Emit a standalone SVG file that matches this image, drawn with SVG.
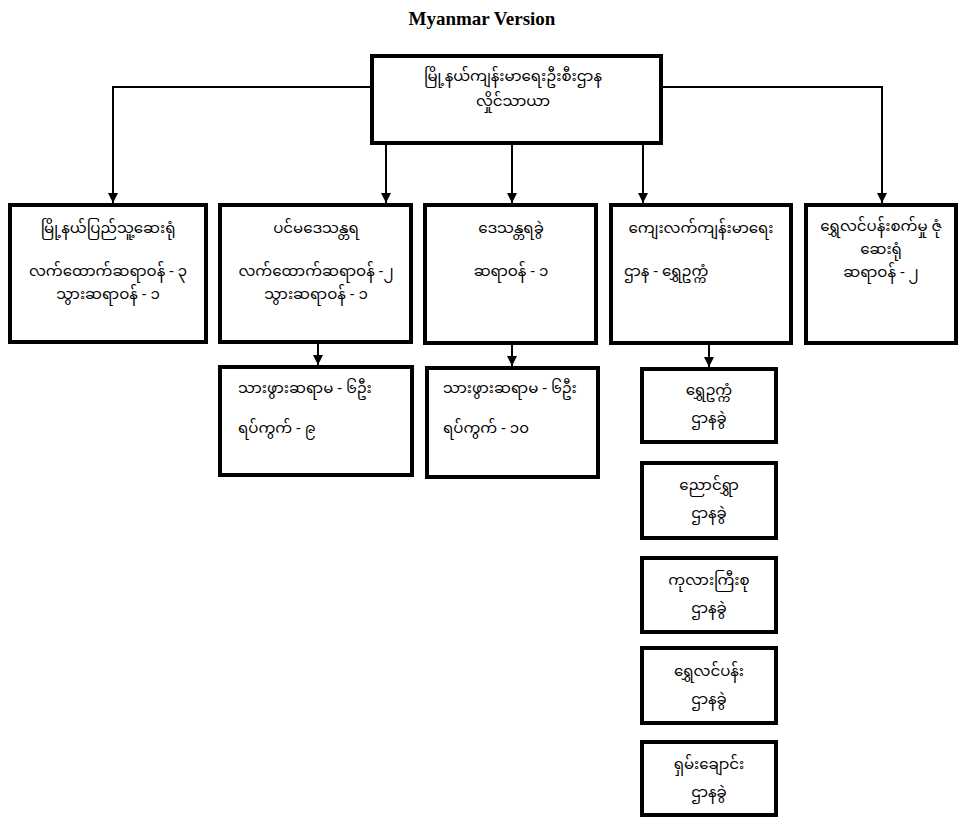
<svg xmlns="http://www.w3.org/2000/svg" width="964" height="818" viewBox="0 0 964 818">
<defs>
<marker id="ah" viewBox="0 0 10 10" refX="10" refY="5" markerWidth="10" markerHeight="10" markerUnits="userSpaceOnUse" orient="auto">
<path d="M0,0 L10,5 L0,10 z" fill="#000"/>
</marker>
<style>
.box{fill:#fff;stroke:#000;stroke-width:4}
.con{fill:none;stroke:#000;stroke-width:2}
.t{font-family:"Noto Sans Myanmar","Padauk","Myanmar Text","Noto Sans",sans-serif;font-size:15px;fill:#000}
.c{text-anchor:middle}
.title{font-family:"Liberation Serif",serif;font-size:19px;font-weight:bold;text-anchor:middle}
</style>
</defs>
<rect width="964" height="818" fill="#fff"/>
<text class="title" x="482" y="25">Myanmar Version</text>

<g id="connectors">
<path class="con" d="M372,87 H113 V203" marker-end="url(#ah)"/>
<path class="con" d="M661,87 H882 V203" marker-end="url(#ah)"/>
<path class="con" d="M386,143 V203" marker-end="url(#ah)"/>
<path class="con" d="M512,143 V203" marker-end="url(#ah)"/>
<path class="con" d="M643,143 V203" marker-end="url(#ah)"/>
<path class="con" d="M318,343 V365" marker-end="url(#ah)"/>
<path class="con" d="M512,343 V366" marker-end="url(#ah)"/>
<path class="con" d="M709,343 V367" marker-end="url(#ah)"/>
</g>

<g id="n-top">
<rect class="box" x="372" y="56" width="289" height="87"/>
<text class="t c" x="513" y="81">မြို့နယ်ကျန်းမာရေးဦးစီးဌာန<tspan x="513" dy="25">လှိုင်သာယာ</tspan></text>
</g>

<g id="n-hospital">
<rect class="box" x="10" y="205" width="196" height="137"/>
<text class="t c" x="108" y="233">မြို့နယ်ပြည်သူ့ဆေးရုံ</text>
<text class="t c" x="108" y="276">လက်ထောက်ဆရာဝန်  - ၃<tspan x="108" dy="23">သွားဆရာဝန်  - ၁</tspan></text>
</g>

<g id="n-main-rhc">
<rect class="box" x="220" y="205" width="191" height="137"/>
<text class="t c" x="316" y="233">ပင်မဒေသန္တရ</text>
<text class="t c" x="316" y="276">လက်ထောက်ဆရာဝန်  -၂<tspan x="316" dy="23">သွားဆရာဝန်  - ၁</tspan></text>
</g>

<g id="n-sub-rhc">
<rect class="box" x="425" y="205" width="171" height="138"/>
<text class="t c" x="511" y="233">ဒေသန္တရခွဲ</text>
<text class="t c" x="511" y="276">ဆရာဝန်  - ၁</text>
</g>

<g id="n-rural">
<rect class="box" x="611" y="205" width="180" height="138"/>
<text class="t c" x="701" y="233">ကျေးလက်ကျန်းမာရေး</text>
<text class="t" x="624" y="276">ဌာန - ရွှေဥက္ကံ</text>
</g>

<g id="n-industrial">
<rect class="box" x="806" y="205" width="150" height="138"/>
<text class="t c" x="881" y="231">ရွှေလင်ပန်းစက်မှု ဇုံ<tspan x="881" dy="23">ဆေးရုံ</tspan><tspan x="881" dy="23">ဆရာဝန်  - ၂</tspan></text>
</g>

<g id="n-mw1">
<rect class="box" x="220" y="367" width="192" height="108"/>
<text class="t" x="238" y="393">သားဖွားဆရာမ  - ၆ဦး</text>
<text class="t" x="238" y="433">ရပ်ကွက်  - ၉</text>
</g>

<g id="n-mw2">
<rect class="box" x="427" y="368" width="171" height="109"/>
<text class="t" x="443" y="393">သားဖွားဆရာမ  - ၆ဦး</text>
<text class="t" x="443" y="433">ရပ်ကွက်  - ၁၀</text>
</g>

<g id="n-s1">
<rect class="box" x="642" y="369" width="134" height="73"/>
<text class="t c" x="709" y="395">ရွှေဥက္ကံ<tspan x="709" dy="28">ဌာနခွဲ</tspan></text>
</g>
<g id="n-s2">
<rect class="box" x="642" y="463" width="134" height="75"/>
<text class="t c" x="709" y="490">ညောင်ရွှာ<tspan x="709" dy="28">ဌာနခွဲ</tspan></text>
</g>
<g id="n-s3">
<rect class="box" x="642" y="558" width="134" height="74"/>
<text class="t c" x="709" y="585">ကုလားကြီးစု<tspan x="709" dy="28">ဌာနခွဲ</tspan></text>
</g>
<g id="n-s4">
<rect class="box" x="642" y="648" width="134" height="75"/>
<text class="t c" x="709" y="676">ရွှေလင်ပန်း<tspan x="709" dy="28">ဌာနခွဲ</tspan></text>
</g>
<g id="n-s5">
<rect class="box" x="642" y="742" width="134" height="73"/>
<text class="t c" x="709" y="769">ရှမ်းချောင်း<tspan x="709" dy="28">ဌာနခွဲ</tspan></text>
</g>
</svg>
